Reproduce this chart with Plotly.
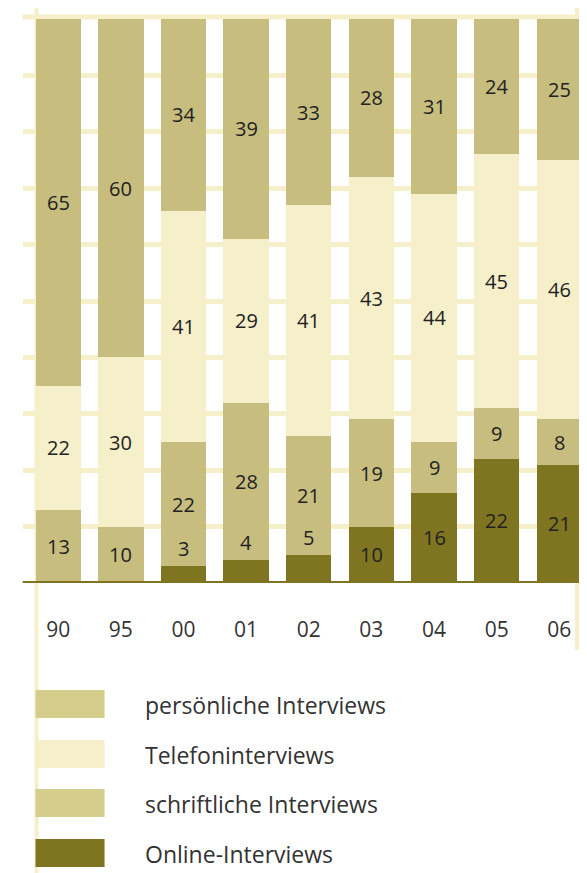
import plotly.graph_objects as go

years = ["90", "95", "00", "01", "02", "03", "04", "05", "06"]
online = [0, 0, 3, 4, 5, 10, 16, 22, 21]
schriftlich = [13, 10, 22, 28, 21, 19, 9, 9, 8]
telefon = [22, 30, 41, 29, 41, 43, 44, 45, 46]
persoenlich = [65, 60, 34, 39, 33, 28, 31, 24, 25]

legend_labels = ["persönliche Interviews", "Telefoninterviews", "schriftliche Interviews", "Online-Interviews"]

C_PERS = "#C6BD7E"
C_TEL = "#F5EFCA"
C_SCHR = "#C6BD7E"
C_ONL = "#7F7420"
LEG_COLORS = ["#D5CD8B", "#F5EFCA", "#D5CD8B", "#7F7420"]
GRID = "#F5EFCA"
TXT = "#222222"
FONT = "Open Sans"

# page has an 8px body margin and ~579px of visible width
OFF = 8
VIS_W = 579
SX = VIS_W / 587.0
W, H = VIS_W - OFF, 873 - OFF
PLOT_TOP, PLOT_BOT = 19, 583  # reference page pixels


def px(x):
    return (x * SX - OFF) / W


def py(y):
    return (PLOT_BOT - y) / (PLOT_BOT - PLOT_TOP)


fig = go.Figure()
series = [(online, C_ONL), (schriftlich, C_SCHR), (telefon, C_TEL), (persoenlich, C_PERS)]
for vals, col in series:
    fig.add_trace(go.Bar(x=years, y=vals, marker=dict(color=col, line=dict(width=0)),
                         hoverinfo="skip", showlegend=False))

annotations = []
for i, yr in enumerate(years):
    base = 0
    for k, (vals, col) in enumerate(series):
        v = vals[i]
        if v > 0:
            if k == 0 and v < 8:
                annotations.append(dict(x=i, y=v, xref="x", yref="y", text=str(v), showarrow=False,
                                        yanchor="bottom", yshift=2,
                                        font=dict(family=FONT, size=20, color=TXT)))
            else:
                annotations.append(dict(x=i, y=base + v / 2, xref="x", yref="y", text=str(v),
                                        showarrow=False, yanchor="middle",
                                        font=dict(family=FONT, size=20, color=TXT)))
        base += v

shapes = []
leg_tops = [690, 740, 789, 839]
for lab, col, top in zip(legend_labels, LEG_COLORS, leg_tops):
    shapes.append(dict(type="rect", xref="paper", yref="paper", x0=px(36), x1=px(106),
                       y0=py(top + 28), y1=py(top), fillcolor=col, line=dict(width=0)))
    annotations.append(dict(x=px(145), y=py(top + 15), xref="paper", yref="paper", text=lab,
                            showarrow=False, xanchor="left", yanchor="middle",
                            font=dict(family=FONT, size=23, color="#333333")))

# decorative pale verticals
shapes.append(dict(type="line", xref="paper", yref="paper", x0=px(37), x1=px(37), y0=py(873), y1=py(5),
                   line=dict(color=GRID, width=4), layer="below"))
shapes.append(dict(type="line", xref="paper", yref="paper", x0=px(585), x1=px(585), y0=py(650), y1=py(5),
                   line=dict(color=GRID, width=4), layer="below"))
# top gridline
shapes.append(dict(type="line", xref="paper", yref="paper", x0=px(23), x1=px(587), y0=py(17), y1=py(17),
                   line=dict(color=GRID, width=5), layer="below"))
# baseline
shapes.append(dict(type="line", xref="paper", yref="y", x0=px(23), x1=1, y0=0, y1=0,
                   line=dict(color=C_ONL, width=4), layer="above"))

fig.update_layout(
    barmode="stack",
    bargap=0.276,
    width=W, height=H,
    margin=dict(l=0, r=0, t=PLOT_TOP - OFF, b=H - (PLOT_BOT - OFF)),
    paper_bgcolor="white", plot_bgcolor="white",
    showlegend=False,
    annotations=annotations,
    shapes=shapes,
    xaxis=dict(domain=[px(23), 1], range=[-0.567, 8.315], type="category",
               showgrid=False, zeroline=False, showline=False,
               ticks="outside", ticklen=28, tickcolor="rgba(0,0,0,0)",
               tickfont=dict(family=FONT, size=21, color="#333333")),
    yaxis=dict(range=[0, 100], showticklabels=False, showgrid=True, gridcolor=GRID, gridwidth=5,
               dtick=10, zeroline=False, showline=False),
)

fig.write_html("out.html")
